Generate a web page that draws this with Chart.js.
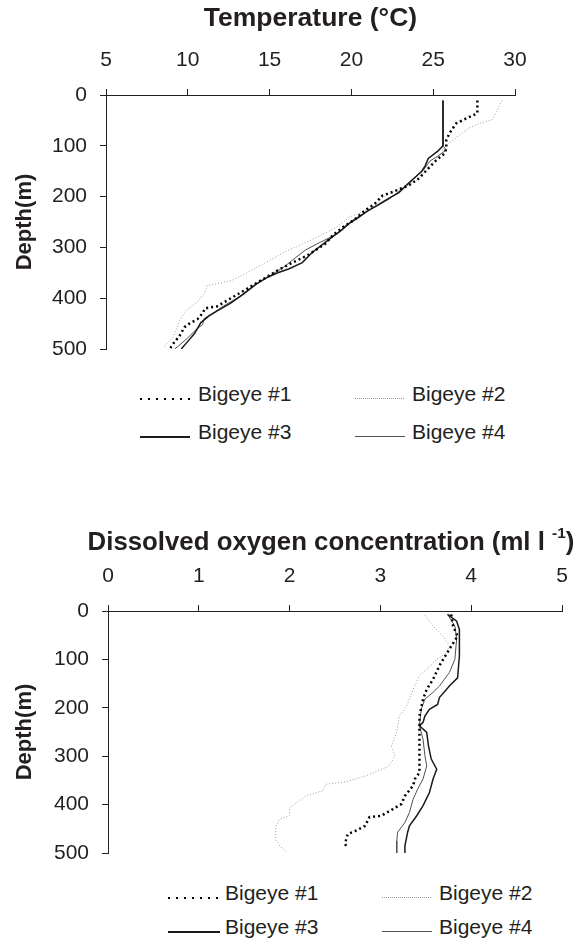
<!DOCTYPE html>
<html>
<head>
<meta charset="utf-8">
<script src="https://cdn.jsdelivr.net/npm/chart.js@4.4.1/dist/chart.umd.min.js"></script>
<style>
  html, body { margin: 0; padding: 0; background: #fff; }
  body { width: 581px; height: 939px; position: relative; overflow: hidden; font-family: "Liberation Sans", Arial, sans-serif; color: #231f20; }
  canvas { position: absolute; left: 0; }
  .leg { position: absolute; font-size: 21px; line-height: 24px; white-space: nowrap; }
  .sw { position: absolute; }
  #oxyTitle { position: absolute; left: 331px; top: 525px; transform: translateX(-50%); font-weight: bold; font-size: 25.8px; line-height: 32px; white-space: nowrap; }
  #oxyTitle sup { font-size: 0.6em; vertical-align: 0.75em; line-height: 0; }
</style>
</head>
<body>
<canvas id="tempChart" width="581" height="376" style="top:0"></canvas>
<canvas id="oxyChart" width="600" height="380" style="top:500px"></canvas>
<div id="oxyTitle">Dissolved oxygen concentration (ml l <sup>-1</sup>)</div>
<div id="legTop"></div>
<div id="legBot"></div>
<script>
// ---- data (value, depth in m) ----
const seriesNames = ["Bigeye #1", "Bigeye #2", "Bigeye #3", "Bigeye #4"];
const tempTicks = [5, 10, 15, 20, 25, 30];
const oxyTicks = [0, 1, 2, 3, 4, 5];
const depthTicks = [0, 100, 200, 300, 400, 500];

// Temperature profiles (°C)
const temp1 = [27.7,27.7,26.9,26.4,26.0,25.8,25.8,25.7,25.2,24.6,24.1,23.5,22.6,21.9,21.4,20.8,20.2,19.5,18.9,18.4,17.3,16.4,15.5,14.8,14.2,13.6,12.9,11.8,11.05,10.9,10.6,10.1,9.8,9.5,9.1,8.9];
const tempDepth1 = [11,36,48,56,75,89,105,115,128,148,165,178,190,198,215,228,245,260,275,293,316,330,345,359,370,382,395,416,420,430,441,450,457,474,490,500];
const temp2 = [29.2,28.9,28.6,27.8,27.2,26.6,25.7,25.4,25.0,24.5,24.0,23.3,22.7,22.0,21.3,20.5,19.9,19.1,18.2,17.3,16.0,14.8,13.9,12.7,12.0,11.2,11.0,10.5,9.9,9.5,9.1,8.5];
const tempDepth2 = [11,30,49,56,65,79,102,118,132,150,168,180,188,200,220,232,240,260,275,289,308,329,345,365,370,375,391,410,424,444,477,497];
const temp3 = [25.6,25.6,25.3,24.7,24.5,24.3,23.8,23.3,22.9,22.2,21.7,21.0,20.4,19.9,19.4,18.9,18.4,17.6,17.0,16.2,15.5,14.8,14.2,13.4,12.6,11.8,11.3,10.8,10.4,10.0,9.6];
const tempDepth3 = [11,100,110,125,140,150,165,180,192,205,215,228,242,252,266,278,290,310,330,342,350,360,372,392,410,425,435,448,470,485,500];
const temp4 = [25.6,25.6,25.8,25.3,24.8,24.4,23.9,23.5,22.9,22.3,21.6,20.8,20.1,19.6,19.2,18.6,17.9,17.2,16.4,15.9,15.0,14.0,13.1,12.2,11.6,11.0,10.9,10.5,10.0,9.4,9.2];
const tempDepth4 = [11,100,108,120,130,148,162,172,190,205,218,232,246,258,272,282,293,305,325,338,356,376,398,415,428,440,452,462,478,495,500];

// Dissolved oxygen profiles (ml l-1)
const oxy1 = [3.78,3.80,3.85,3.76,3.65,3.58,3.51,3.47,3.43,3.43,3.43,3.43,3.38,3.36,3.27,3.23,3.14,3.01,2.88,2.83,2.73,2.64,2.61,2.63];
const oxyDepth1 = [7,31,52,79,113,141,162,182,217,265,306,334,347,361,382,399,409,423,426,444,454,461,481,488];
const oxy2 = [3.49,3.58,3.69,3.76,3.73,3.62,3.51,3.43,3.36,3.29,3.21,3.18,3.12,3.16,3.10,2.85,2.62,2.40,2.37,2.18,2.0,2.0,1.89,1.85,1.84,1.89,1.98];
const oxyDepth2 = [9,31,52,72,86,100,120,134,162,196,217,251,279,299,320,340,353,358,371,382,406,423,430,444,471,485,500];
const oxy3 = [3.74,3.84,3.87,3.87,3.87,3.85,3.76,3.65,3.63,3.54,3.49,3.47,3.43,3.51,3.53,3.56,3.62,3.58,3.54,3.47,3.40,3.32,3.30,3.27,3.27];
const oxyDepth3 = [7,21,38,65,93,138,155,179,193,203,217,230,237,251,279,306,327,347,375,402,423,444,457,485,500];
const oxy4 = [3.74,3.82,3.84,3.82,3.76,3.65,3.58,3.49,3.45,3.43,3.47,3.49,3.51,3.47,3.41,3.36,3.32,3.27,3.19,3.18,3.18];
const oxyDepth4 = [7,31,58,100,127,155,168,182,203,237,265,299,320,347,368,389,416,437,457,475,500];

// ---- styles ----
const INK = '#231f20';
const styles = [
  { borderColor: '#000', borderWidth: 2.5, borderDash: [2, 3] },
  { borderColor: '#9a9a9a', borderWidth: 1, borderDash: [1, 2] },
  { borderColor: '#1a1a1a', borderWidth: 1.5, borderDash: [] },
  { borderColor: '#505050', borderWidth: 1, borderDash: [] }
];
const FONT = '"Liberation Sans", Arial, sans-serif';

function pts(vals, depths) { return vals.map((v, i) => ({ x: v, y: depths[i] })); }

function makeChart(id, xs, title, ticks, xHeight, yWidth, titlePadTop, padRight, padBottom) {
  const datasets = xs.map((d, i) => Object.assign({
    label: seriesNames[i],
    data: pts(d[0], d[1]),
    showLine: true,
    pointRadius: 0,
    fill: false,
    tension: 0
  }, styles[i]));
  return new Chart(document.getElementById(id), {
    type: 'scatter',
    data: { datasets },
    options: {
      responsive: false,
      animation: false,
      events: [],
      layout: { padding: { left: 0, right: padRight, top: 0, bottom: padBottom } },
      plugins: { legend: { display: false }, tooltip: { enabled: false } },
      scales: {
        x: {
          type: 'linear', position: 'top',
          min: ticks[0], max: ticks[ticks.length - 1],
          afterBuildTicks: s => { s.ticks = ticks.map(v => ({ value: v })); },
          afterFit: s => { s.height = xHeight; },
          ticks: { color: INK, font: { family: FONT, size: 21 }, padding: 16, maxRotation: 0 },
          grid: { drawOnChartArea: false, drawTicks: true, tickLength: 6, color: INK, lineWidth: 1 },
          border: { display: true, color: INK, width: 1 },
          title: { display: !!title, text: title || '', color: INK, font: { family: FONT, size: 26.5, weight: 'bold' }, padding: { top: titlePadTop, bottom: 0 } }
        },
        y: {
          type: 'linear', position: 'left', reverse: true,
          min: 0, max: 500,
          afterBuildTicks: s => { s.ticks = depthTicks.map(v => ({ value: v })); },
          afterFit: s => { s.width = yWidth; },
          ticks: { color: INK, font: { family: FONT, size: 21 }, padding: 13 },
          grid: { drawOnChartArea: false, drawTicks: true, tickLength: 6, color: INK, lineWidth: 1 },
          border: { display: true, color: INK, width: 1 },
          title: { display: true, text: 'Depth(m)', color: INK, font: { family: FONT, size: 22, weight: 'bold' }, padding: { top: 12, bottom: 0 } }
        }
      }
    }
  });
}

makeChart('tempChart',
  [[temp1, tempDepth1], [temp2, tempDepth2], [temp3, tempDepth3], [temp4, tempDepth4]],
  'Temperature (°C)', tempTicks, 95, 106, 3, 66, 27);
// oxygen chart's x-axis title (with superscript) is the HTML #oxyTitle element
makeChart('oxyChart',
  [[oxy1, oxyDepth1], [oxy2, oxyDepth2], [oxy3, oxyDepth3], [oxy4, oxyDepth4]],
  null, oxyTicks, 111, 108, 25, 38, 27);

// ---- HTML legends ----
const swatchCss = [
  'height:2px;background:repeating-linear-gradient(to right,#000 0 2px,transparent 2px 8px);',
  'height:1px;background:repeating-linear-gradient(to right,#9a9a9a 0 1px,transparent 1px 2px);',
  'height:1.5px;background:#1a1a1a;',
  'height:1px;background:#505050;'
];
function buildLegend(elId, cols, rows) {
  const el = document.getElementById(elId);
  seriesNames.forEach((name, i) => {
    const c = cols[i % 2], r = rows[Math.floor(i / 2)];
    const sw = document.createElement('div');
    sw.className = 'sw';
    sw.style.cssText = `left:${c[0]}px;width:${c[1]}px;top:${r + 4}px;` + swatchCss[i];
    el.appendChild(sw);
    const t = document.createElement('div');
    t.className = 'leg';
    t.textContent = name;
    t.style.left = c[2] + 'px';
    t.style.top = (r - 12) + 'px';
    el.appendChild(t);
  });
}
buildLegend('legTop', [[140, 50, 198], [355, 50, 412]], [394, 432]);
buildLegend('legBot', [[168, 52, 225], [382, 50, 439]], [893, 927]);
</script>
</body>
</html>
